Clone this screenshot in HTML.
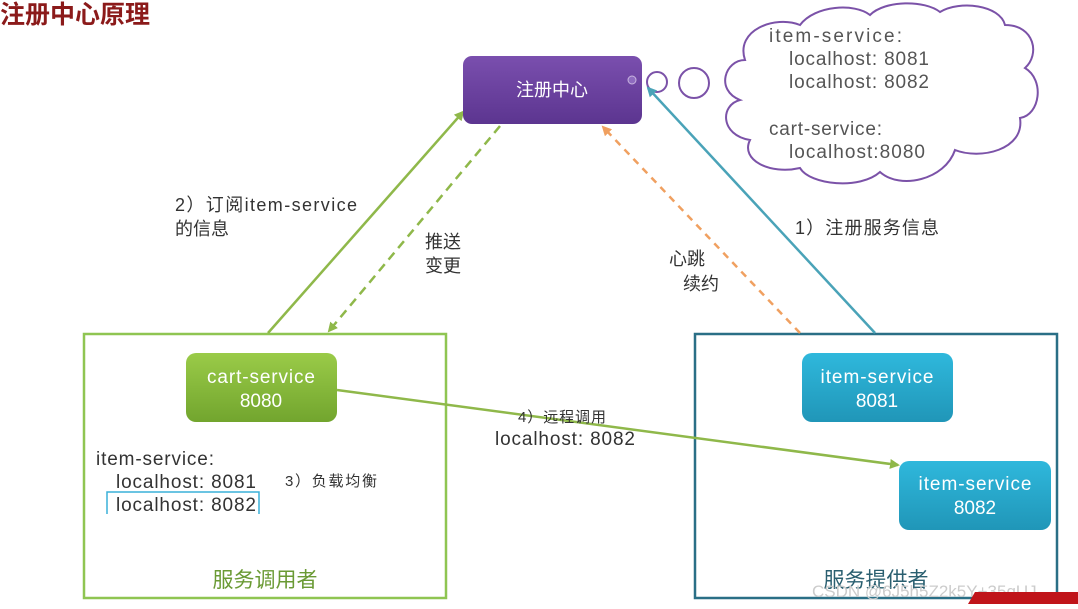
<!DOCTYPE html>
<html><head><meta charset="utf-8"><style>
body{margin:0;background:#fff;}
svg text{font-family:"Liberation Sans","Noto Sans CJK SC",sans-serif;}
</style></head><body>
<svg width="1078" height="604" viewBox="0 0 1078 604" xmlns="http://www.w3.org/2000/svg">
<defs>
<marker id="ag" markerWidth="10" markerHeight="10" refX="8" refY="5" orient="auto" markerUnits="userSpaceOnUse"><path d="M0,0 L10,5 L0,10 z" fill="#8fb84a"/></marker>
<marker id="ao" markerWidth="10" markerHeight="10" refX="8" refY="5" orient="auto" markerUnits="userSpaceOnUse"><path d="M0,0 L10,5 L0,10 z" fill="#f0a060"/></marker>
<marker id="at" markerWidth="10" markerHeight="10" refX="8" refY="5" orient="auto" markerUnits="userSpaceOnUse"><path d="M0,0 L10,5 L0,10 z" fill="#4aa3b8"/></marker>
<linearGradient id="gg" x1="0" y1="0" x2="0" y2="1"><stop offset="0" stop-color="#9acb48"/><stop offset="1" stop-color="#72a52e"/></linearGradient>
<linearGradient id="gt" x1="0" y1="0" x2="0" y2="1"><stop offset="0" stop-color="#2fb8dc"/><stop offset="1" stop-color="#2096b8"/></linearGradient>
<linearGradient id="gp" x1="0" y1="0" x2="0" y2="1"><stop offset="0" stop-color="#7a4fae"/><stop offset="1" stop-color="#5c3590"/></linearGradient>
</defs>
<text x="0" y="23" font-size="25" fill="#8b1a1a" font-weight="bold">注册中心原理</text>

<rect x="84" y="334" width="362" height="264" fill="none" stroke="#8fc552" stroke-width="2.5"/>
<rect x="695" y="334" width="362" height="264" fill="none" stroke="#2a6f86" stroke-width="2.5"/>

<path d="M745,60 C735,30 775,15 800,25 C815,5 855,3 870,15 C885,0 925,0 940,12 C960,0 1000,5 1005,25 C1035,25 1040,55 1025,68 C1045,80 1040,115 1020,118 C1025,150 980,160 955,150 C945,180 900,190 880,172 C860,190 810,185 800,168 C770,175 740,160 750,140 C720,135 720,105 740,100 C715,90 725,60 745,60 Z" fill="#fff" stroke="#7b52a8" stroke-width="2"/>
<circle cx="657" cy="82" r="10" fill="#fff" stroke="#7b52a8" stroke-width="2"/>
<circle cx="694" cy="83" r="15" fill="#fff" stroke="#7b52a8" stroke-width="2"/>
<g font-size="19" fill="#555">
<text x="769" y="42" textLength="133">item-service:</text>
<text x="789" y="65" textLength="140">localhost: 8081</text>
<text x="789" y="88" textLength="140">localhost: 8082</text>
<text x="769" y="135" textLength="113">cart-service:</text>
<text x="789" y="158" textLength="136">localhost:8080</text>
</g>

<line x1="268" y1="333" x2="463" y2="112" stroke="#8fb84a" stroke-width="2.5" marker-end="url(#ag)"/>
<line x1="500" y1="126" x2="329" y2="331" stroke="#8fb84a" stroke-width="2.5" stroke-dasharray="9,6" marker-end="url(#ag)"/>
<line x1="800" y1="333" x2="603" y2="127" stroke="#f0a060" stroke-width="2.5" stroke-dasharray="7,6" marker-end="url(#ao)"/>
<line x1="875" y1="333" x2="648" y2="88" stroke="#4aa3b8" stroke-width="2.5" marker-end="url(#at)"/>
<line x1="337" y1="390" x2="898" y2="465" stroke="#8fb84a" stroke-width="2.5" marker-end="url(#ag)"/>

<rect x="463" y="56" width="179" height="68" rx="9" fill="url(#gp)"/>
<circle cx="632" cy="80" r="4" fill="#8e6bbf" stroke="#c9b5e0"/>
<text x="552" y="96" font-size="18" fill="#fff" text-anchor="middle">注册中心</text>

<rect x="186" y="353" width="151" height="69" rx="10" fill="url(#gg)"/>
<text x="261" y="383" font-size="19" fill="#fff" text-anchor="middle" textLength="108">cart-service</text>
<text x="261" y="407" font-size="19" fill="#fff" text-anchor="middle">8080</text>

<rect x="802" y="353" width="151" height="69" rx="10" fill="url(#gt)"/>
<text x="877" y="383" font-size="19" fill="#fff" text-anchor="middle" textLength="113">item-service</text>
<text x="877" y="407" font-size="19" fill="#fff" text-anchor="middle">8081</text>

<rect x="899" y="461" width="152" height="69" rx="10" fill="url(#gt)"/>
<text x="975" y="490" font-size="19" fill="#fff" text-anchor="middle" textLength="113">item-service</text>
<text x="975" y="514" font-size="19" fill="#fff" text-anchor="middle">8082</text>

<g fill="#333" font-size="18">
<text x="175" y="211" textLength="182">2）订阅item-service</text>
<text x="175" y="235">的信息</text>
<text x="425" y="248">推送</text>
<text x="425" y="272">变更</text>
<text x="669" y="265">心跳</text>
<text x="683" y="290">续约</text>
<text x="795" y="234" textLength="144">1）注册服务信息</text>
<text x="518" y="422" font-size="15" textLength="88">4）远程调用</text>
<text x="495" y="445" font-size="19" textLength="140">localhost: 8082</text>
<text x="96" y="465" font-size="19" textLength="118">item-service:</text>
<text x="116" y="488" font-size="19" textLength="140">localhost: 8081</text>
<text x="116" y="511" font-size="19" textLength="140">localhost: 8082</text>
<text x="285" y="486" font-size="15" textLength="92">3）负载均衡</text>
</g>
<path d="M107,514 V492 H259 V514" fill="none" stroke="#3ab0d8" stroke-width="1.5"/>
<text x="265" y="587" font-size="21" fill="#6a9a34" text-anchor="middle">服务调用者</text>
<text x="876" y="587" font-size="21" fill="#2a5f70" text-anchor="middle">服务提供者</text>
<text x="812" y="597" font-size="17" fill="#ccc">CSDN @6J5h5Z2k5Y+35qUJ</text>
<path d="M968,604 L975,592 L1078,592 L1078,604 Z" fill="#c0141a"/>
</svg>
</body></html>
